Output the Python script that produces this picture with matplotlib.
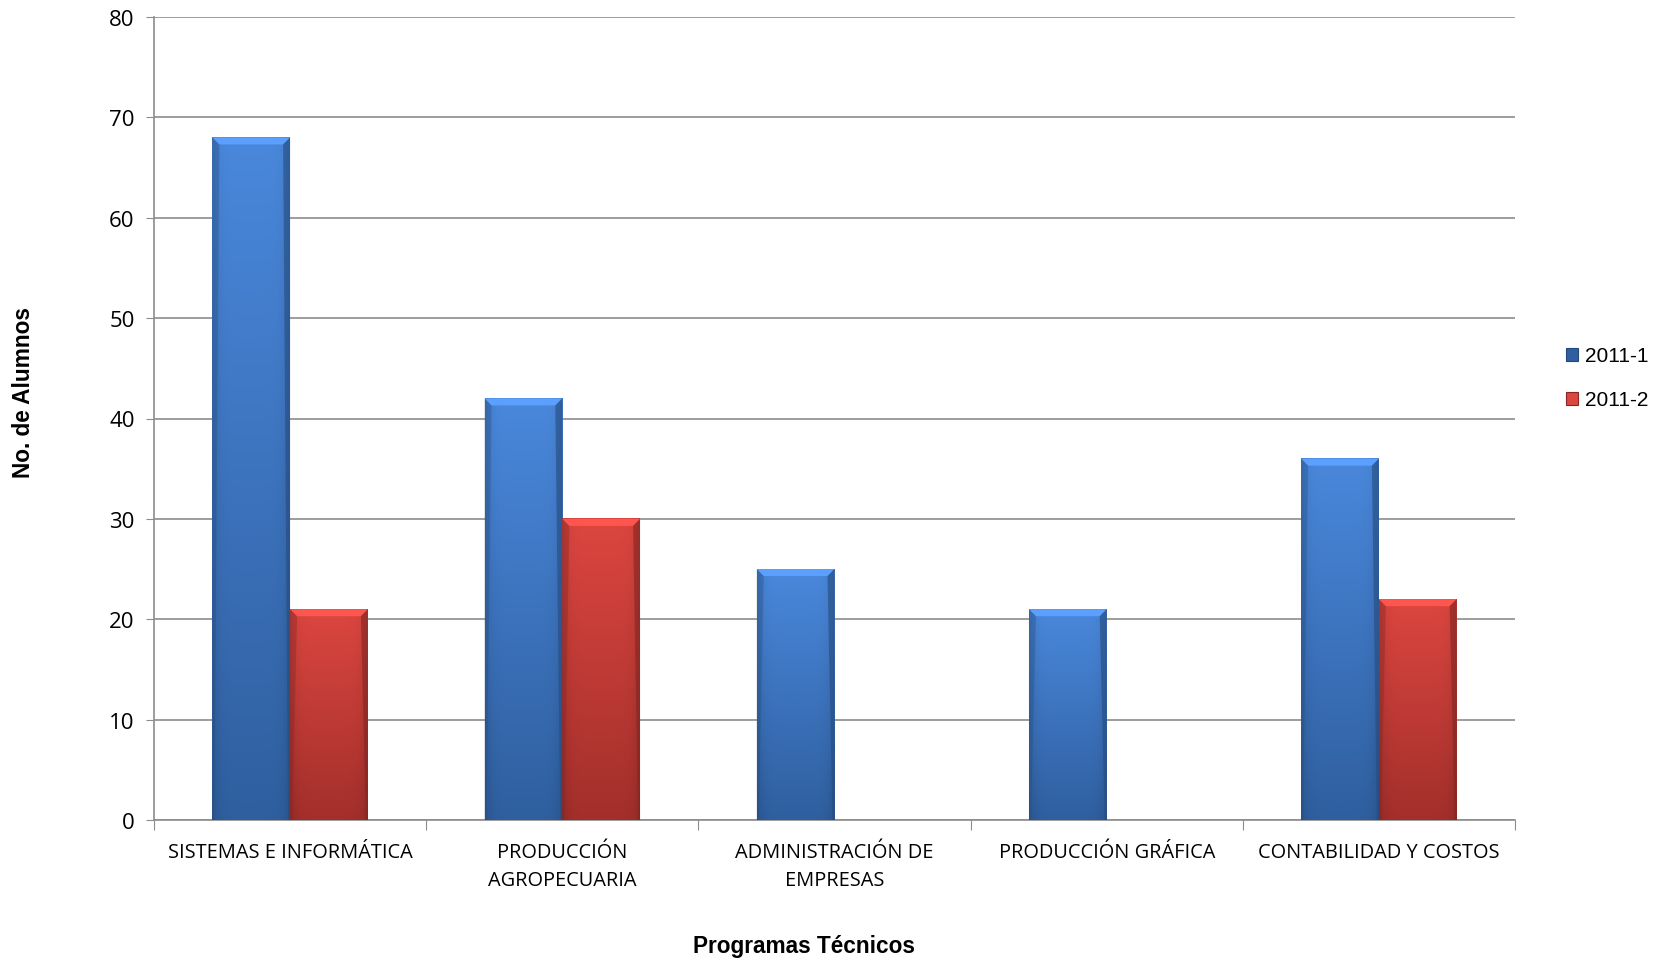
import numpy as np
import matplotlib
matplotlib.use("Agg")
import matplotlib.pyplot as plt
from matplotlib.patches import Polygon
from matplotlib.colors import to_rgb

# data
programas = ["SISTEMAS E INFORMÁTICA", "PRODUCCIÓN\nAGROPECUARIA",
             "ADMINISTRACIÓN DE\nEMPRESAS", "PRODUCCIÓN GRÁFICA",
             "CONTABILIDAD Y COSTOS"]
serie_2011_1 = [68, 42, 25, 21, 36]
serie_2011_2 = [21, 30, 0, 0, 22]
series_labels = ["2011-1", "2011-2"]
y_ticks = [0, 10, 20, 30, 40, 50, 60, 70, 80]

# colour ramps (top, bottom)
blue = ("#4a88dc", "#2f5f9f")
red = ("#dc4640", "#a32f2b")

fig = plt.figure(figsize=(16.57, 9.62), dpi=100)
ax = fig.add_axes([154 / 1657, 1 - 821 / 962, (1515 - 154) / 1657, (821 - 18) / 962])

x = np.arange(len(programas))
w = 1 / 3.5
b1 = ax.bar(x - w / 2, serie_2011_1, width=w, color="none", label=series_labels[0], zorder=3)
b2 = ax.bar(x + w / 2, serie_2011_2, width=w, color="none", label=series_labels[1], zorder=3)

ax.set_xlim(-0.5, len(programas) - 0.5)
ax.set_ylim(0, 80)

# pixel size in data units
ax_w_px = 1515 - 154
ax_h_px = 821 - 18
dx = len(programas) / ax_w_px
dy = 80 / ax_h_px


def shade(bars, cols):
    top = np.array(to_rgb(cols[0]))
    bot = np.array(to_rgb(cols[1]))
    for p in bars.patches:
        h = p.get_height()
        if h <= 0:
            continue
        x0, y0, bw = p.get_x(), p.get_y(), p.get_width()
        t = np.linspace(0, 1, 200)[:, None]
        s = np.linspace(0, 1, 60)[None, :]
        edge = 1 - 0.12 * (np.abs(s - 0.5) * 2) ** 6
        img = (bot[None, None, :] * (1 - t[..., None]) + top[None, None, :] * t[..., None])
        img = img * edge[..., None]
        ax.imshow(np.clip(img, 0, 1), extent=[x0, x0 + bw, y0, y0 + h], origin="lower",
                  aspect="auto", zorder=3, interpolation="bilinear")
        bh = 7 * dy
        bx = 7 * dx
        light = np.clip(top * 1.12 + 0.03, 0, 1)
        dark = bot * 0.8
        ax.add_patch(Polygon([[x0, y0 + h], [x0 + bw, y0 + h], [x0 + bw - bx, y0 + h - bh],
                              [x0 + bx, y0 + h - bh]], closed=True, color=light, lw=0, zorder=4))
        ax.add_patch(Polygon([[x0 + bw, y0 + h], [x0 + bw, y0], [x0 + bw - 2 * dx, y0],
                              [x0 + bw - bx, y0 + h - bh]], closed=True, color=dark, lw=0,
                             alpha=0.6, zorder=4))
        ax.add_patch(Polygon([[x0, y0 + h], [x0, y0], [x0 + 2 * dx, y0],
                              [x0 + bx, y0 + h - bh]], closed=True, color=dark, lw=0,
                             alpha=0.35, zorder=4))


shade(b1, blue)
shade(b2, red)

grid_col = "#8c8c8c"
ax.set_yticks(y_ticks)
ax.yaxis.grid(True, color=grid_col, lw=1.2, zorder=0)
ax.set_axisbelow(True)
for s in ["top", "right"]:
    ax.spines[s].set_visible(False)
ax.spines["left"].set_color(grid_col)
ax.spines["bottom"].set_color(grid_col)
ax.spines["left"].set_linewidth(1.2)
ax.spines["bottom"].set_linewidth(1.2)

ax.tick_params(axis="y", length=6, color=grid_col, labelsize=16, pad=8)
ax.set_xticks(np.arange(len(programas) + 1) - 0.5)
ax.set_xticklabels([])
ax.set_xticks(x, minor=True)
ax.set_xticklabels(programas, minor=True, fontsize=14.4, fontfamily="Open Sans", linespacing=1.5)
ax.tick_params(axis="x", which="major", length=7, color=grid_col)
ax.tick_params(axis="x", which="minor", length=0, pad=16)
for lab in ax.get_yticklabels():
    lab.set_fontfamily("Open Sans")

fig.text(804 / 1657, 1 - 947 / 962, "Programas Técnicos", ha="center", va="center",
         fontsize=16.3, fontweight="bold", family="Liberation Sans")
fig.text(24 / 1657, 1 - 393 / 962, "No. de Alumnos", ha="center", va="center", rotation=90,
         fontsize=16.3, fontweight="bold", family="Liberation Sans")

# legend
handles = [plt.Rectangle((0, 0), 1, 1, fc=blue[1], ec="#1f4a80", lw=0.8),
           plt.Rectangle((0, 0), 1, 1, fc=red[0], ec="#8a2622", lw=0.8)]
leg = fig.legend(handles, series_labels, loc="center left", bbox_to_anchor=(1547 / 1657, 1 - 379 / 962),
                 frameon=False, prop={"family": "Liberation Sans", "size": 15},
                 handlelength=0.6, handleheight=0.6, handletextpad=0.3, labelspacing=1.2)

fig.savefig("out.png", dpi=100, facecolor="white")
